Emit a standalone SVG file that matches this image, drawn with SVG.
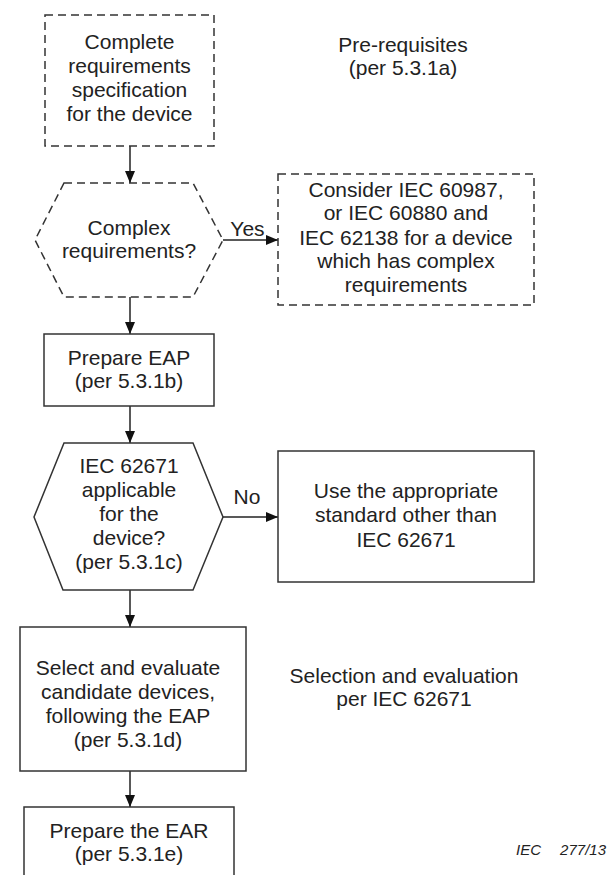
<svg xmlns="http://www.w3.org/2000/svg" width="607" height="875" viewBox="0 0 607 875">
  <style>
    .box { fill: #ffffff; stroke: #333333; stroke-width: 1.5; }
    .dash { stroke-dasharray: 8 5; }
    .lbl { font-family: "Liberation Sans", Arial, sans-serif; font-size: 21px; fill: #222222; text-anchor: middle; }
    .note { font-family: "Liberation Sans", Arial, sans-serif; font-size: 15px; font-style: italic; fill: #222222; }
    .wire { fill: none; stroke: #222222; stroke-width: 1.5; }
  </style>
  <defs>
    <marker id="arrow" viewBox="0 0 12 10" refX="12" refY="5" markerWidth="12" markerHeight="10" markerUnits="userSpaceOnUse" orient="auto">
      <path d="M0,0 L12,5 L0,10 Z" fill="#111111"/>
    </marker>
  </defs>

  <rect width="607" height="875" fill="#ffffff"/>

  <!-- connectors -->
  <g id="connectors">
    <line class="wire" x1="130" y1="146" x2="130" y2="183" marker-end="url(#arrow)"/>
    <line class="wire" x1="223" y1="240" x2="278" y2="240" marker-end="url(#arrow)"/>
    <line class="wire" x1="130" y1="297" x2="130" y2="334" marker-end="url(#arrow)"/>
    <line class="wire" x1="130" y1="406" x2="130" y2="443" marker-end="url(#arrow)"/>
    <line class="wire" x1="223" y1="517" x2="278" y2="517" marker-end="url(#arrow)"/>
    <line class="wire" x1="130" y1="590" x2="130" y2="627" marker-end="url(#arrow)"/>
    <line class="wire" x1="130" y1="771" x2="130" y2="807" marker-end="url(#arrow)"/>
    <text class="lbl" x="247.5" y="236">Yes</text>
    <text class="lbl" x="247" y="504">No</text>
  </g>

  <!-- complete requirements specification -->
  <g id="spec">
    <rect class="box dash" x="45" y="15" width="169" height="131"/>
    <text class="lbl" x="129.5" y="49">Complete</text>
    <text class="lbl" x="129.5" y="73">requirements</text>
    <text class="lbl" x="129.5" y="97">specification</text>
    <text class="lbl" x="129.5" y="121">for the device</text>
  </g>

  <g id="prereq-note">
    <text class="lbl" x="403" y="52">Pre-requisites</text>
    <text class="lbl" x="403" y="75">(per 5.3.1a)</text>
  </g>

  <!-- complex requirements decision -->
  <g id="complex">
    <polygon class="box dash" points="64,183 193,183 223,240 193,297 64,297 35,240"/>
    <text class="lbl" x="129" y="235">Complex</text>
    <text class="lbl" x="129" y="258">requirements?</text>
  </g>

  <g id="consider">
    <rect class="box dash" x="278" y="174" width="256" height="131"/>
    <text class="lbl" x="406" y="197">Consider IEC 60987,</text>
    <text class="lbl" x="406" y="220">or IEC 60880 and</text>
    <text class="lbl" x="406" y="245">IEC 62138 for a device</text>
    <text class="lbl" x="406" y="268">which has complex</text>
    <text class="lbl" x="406" y="292">requirements</text>
  </g>

  <g id="prepare-eap">
    <rect class="box" x="44" y="334" width="170" height="72"/>
    <text class="lbl" x="129" y="365">Prepare EAP</text>
    <text class="lbl" x="129" y="388">(per 5.3.1b)</text>
  </g>

  <!-- applicability decision -->
  <g id="applicable">
    <polygon class="box" points="64,443 193,443 223,517 193,590 63,590 34,517"/>
    <text class="lbl" x="129" y="473">IEC 62671</text>
    <text class="lbl" x="129" y="497">applicable</text>
    <text class="lbl" x="129" y="521">for the</text>
    <text class="lbl" x="129" y="545">device?</text>
    <text class="lbl" x="129" y="569">(per 5.3.1c)</text>
  </g>

  <g id="other-standard">
    <rect class="box" x="278" y="451" width="256" height="131"/>
    <text class="lbl" x="406" y="498">Use the appropriate</text>
    <text class="lbl" x="406" y="522">standard other than</text>
    <text class="lbl" x="406" y="547">IEC 62671</text>
  </g>

  <g id="select">
    <rect class="box" x="20" y="627" width="226" height="144"/>
    <text class="lbl" x="128" y="675">Select and evaluate</text>
    <text class="lbl" x="128" y="699">candidate devices,</text>
    <text class="lbl" x="128" y="723">following the EAP</text>
    <text class="lbl" x="128" y="747">(per 5.3.1d)</text>
  </g>

  <g id="selection-note">
    <text class="lbl" x="404" y="683">Selection and evaluation</text>
    <text class="lbl" x="404" y="706">per IEC 62671</text>
  </g>

  <g id="prepare-ear">
    <rect class="box" x="24" y="807" width="210" height="90"/>
    <text class="lbl" x="129" y="838">Prepare the EAR</text>
    <text class="lbl" x="129" y="861">(per 5.3.1e)</text>
  </g>

  <g id="figure-ref">
    <text class="note" x="516" y="855">IEC</text>
    <text class="note" x="606" y="855" text-anchor="end">277/13</text>
  </g>
</svg>
